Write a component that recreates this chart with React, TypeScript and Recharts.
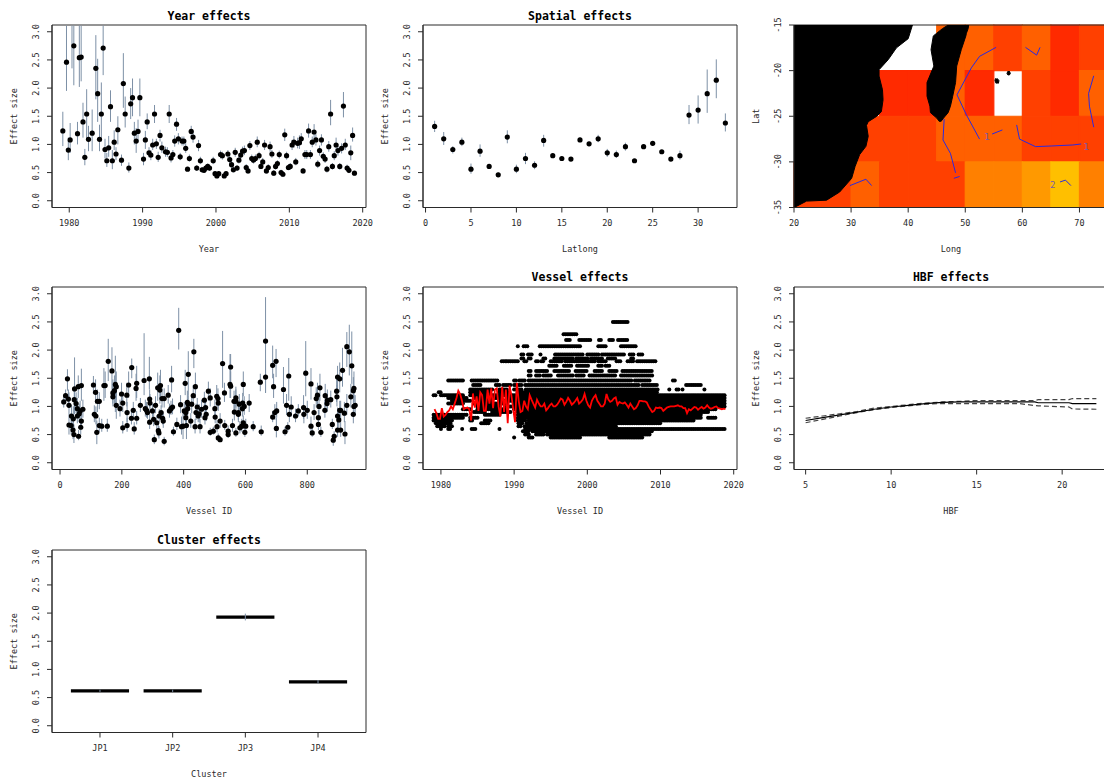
import React from "react";
import {
  ComposedChart,
  ScatterChart,
  LineChart,
  Scatter,
  Line,
  Area,
  ErrorBar,
  ReferenceArea,
  ReferenceDot,
  XAxis,
  YAxis,
} from "recharts";

// ---- year effects: one slot per quarter, 1979 to 2018
const yearEffect = [
  1.24, null, 2.46, 0.9, 1.08, 3.5, 2.75, null, 1.19, 2.54, 2.55, 1.4, 0.77, 1.54, 1.09, null, 1.2, null, 2.35, 1.9,
  1.09, 1.54, 2.71, 0.91, 0.71, 0.94, 1.67, 0.71, 1.04, 0.83, 1.26, null, 0.72, 2.08, 1.54, null, 0.58, 1.72, 1.83, 1.2,
  1.06, 1.23, 1.83, null, 0.74, 1.08, 1.4, 0.85, 0.81, 0.99, 1.54, 1.01, 0.77, 1.16, 0.94, null, 0.87, 0.86, 1.54, 0.76,
  0.82, 1.06, 1.36, 1.1, 0.78, 1.06, 1.06, 0.93, 0.56, 0.75, 1.23, 1.13, null, 0.58, 0.98, 0.71, 0.55, 0.54, 0.58, 0.61,
  0.58, null, 0.71, 0.48, 0.44, 0.48, 0.82, 0.8, 0.44, 0.48, 0.83, 0.73, 0.64, 0.55, 0.86, 0.58, 0.72, 0.81, 0.88, 0.89,
  0.59, 0.53, 0.98, 0.75, 0.72, 0.75, 1.04, 0.8, 0.61, 0.69, 0.99, 0.53, 0.59, 0.96, 0.83, 0.49, 0.61, 0.66, 0.82, 0.5,
  0.47, 1.17, 0.8, 0.59, 0.61, 0.99, 1.04, 0.69, 1.02, 1.03, 1.1, 0.53, 0.82, 0.82, 1.24, 0.82, 1.04, 1.22, 1.08, 0.65,
  0.89, 1.08, 0.79, 0.74, 0.56, 0.96, 1.54, 0.61, 0.8, 0.99, 0.89, 0.61, 0.93, 1.68, 0.99, 0.58, 0.54, 0.85, 1.16, 0.49,
];
const yearLow = [
  0.97, null, 1.95, 0.72, 0.85, 2.35, 2.05, null, 1.0, 2.02, 2.12, 1.12, 0.63, 1.09, 0.88, null, 0.88, null, 1.8, 1.4,
  0.88, 1.05, 2.23, 0.75, 0.6, 0.78, 1.4, 0.56, 0.9, 0.72, 1.0, null, 0.62, 1.65, 1.3, null, 0.5, 1.45, 1.5, 1.0,
  0.85, 1.05, 1.5, null, 0.63, 0.92, 1.27, 0.77, 0.72, 0.9, 1.38, 0.92, 0.69, 1.05, 0.85, null, 0.78, 0.78, 1.38, 0.68,
  0.74, 0.96, 1.24, 1.0, 0.72, 0.98, 0.98, 0.85, 0.53, 0.69, 1.13, 1.03, null, 0.53, 0.88, 0.65, 0.5, 0.5, 0.53, 0.56,
  0.53, null, 0.65, 0.44, 0.41, 0.44, 0.75, 0.73, 0.41, 0.44, 0.76, 0.66, 0.58, 0.5, 0.78, 0.53, 0.66, 0.74, 0.8, 0.81,
  0.54, 0.48, 0.9, 0.69, 0.66, 0.69, 0.95, 0.73, 0.56, 0.63, 0.9, 0.48, 0.54, 0.87, 0.76, 0.44, 0.55, 0.6, 0.75, 0.45,
  0.42, 1.06, 0.73, 0.54, 0.55, 0.9, 0.94, 0.63, 0.93, 0.92, 1.0, 0.48, 0.74, 0.74, 1.12, 0.74, 0.95, 1.1, 0.98, 0.58,
  0.8, 0.98, 0.72, 0.67, 0.5, 0.87, 1.34, 0.55, 0.72, 0.9, 0.8, 0.55, 0.84, 1.48, 0.9, 0.53, 0.49, 0.72, 1.05, 0.45,
];
// bars running off the top of the plot stop at the frame
const yearHigh = [
  1.58, null, 3.11, 1.12, 1.38, 3.11, 3.11, null, 1.4, 3.11, 3.11, 1.74, 0.92, 1.98, 1.33, null, 1.62, null, 2.94, 2.52,
  1.35, 2.1, 3.11, 1.1, 0.85, 1.15, 1.96, 0.9, 1.25, 0.95, 1.5, null, 0.82, 2.62, 1.85, null, 0.68, 2.0, 2.17, 1.4,
  1.29, 1.44, 2.17, null, 0.85, 1.24, 1.55, 0.95, 0.9, 1.1, 1.7, 1.1, 0.87, 1.26, 1.05, null, 0.96, 0.95, 1.7, 0.85,
  0.9, 1.16, 1.47, 1.2, 0.85, 1.14, 1.14, 1.02, 0.6, 0.82, 1.33, 1.24, null, 0.63, 1.08, 0.78, 0.6, 0.59, 0.63, 0.66,
  0.63, null, 0.78, 0.52, 0.48, 0.52, 0.89, 0.87, 0.48, 0.52, 0.9, 0.8, 0.71, 0.6, 0.94, 0.63, 0.79, 0.88, 0.96, 0.98,
  0.65, 0.58, 1.06, 0.82, 0.78, 0.82, 1.14, 0.87, 0.67, 0.76, 1.08, 0.58, 0.65, 1.05, 0.9, 0.54, 0.67, 0.72, 0.89, 0.55,
  0.52, 1.28, 0.87, 0.65, 0.67, 1.08, 1.15, 0.76, 1.12, 1.16, 1.2, 0.58, 0.9, 0.9, 1.37, 0.9, 1.14, 1.36, 1.18, 0.72,
  0.98, 1.18, 0.86, 0.81, 0.62, 1.06, 1.79, 0.67, 0.88, 1.12, 0.98, 0.67, 1.02, 1.93, 1.1, 0.64, 0.6, 0.98, 1.3, 0.53,
];

// ---- spatial effects
const spatialEffect = [
  1.32, 1.1, 0.91, 1.04, 0.56, 0.88, 0.61, 0.46, 1.13, 0.56, 0.75, 0.63, 1.07, 0.8, 0.75, 0.74, 1.08,
  1.01, 1.1, 0.85, 0.82, 0.96, 0.71, 0.96, 1.02, 0.87, 0.74, 0.8, 1.52, 1.61, 1.9, 2.14, 1.38,
];
const spatialLow = [
  1.22, 0.99, 0.84, 0.97, 0.48, 0.78, 0.57, 0.43, 1.02, 0.49, 0.65, 0.56, 0.96, 0.76, 0.72, 0.71, 1.05,
  0.97, 1.04, 0.78, 0.76, 0.89, 0.68, 0.93, 0.98, 0.83, 0.71, 0.73, 1.36, 1.37, 1.56, 1.82, 1.23,
];
const spatialHigh = [
  1.42, 1.22, 0.97, 1.12, 0.66, 1.0, 0.65, 0.5, 1.25, 0.64, 0.85, 0.7, 1.17, 0.84, 0.78, 0.77, 1.12,
  1.05, 1.17, 0.92, 0.89, 1.03, 0.74, 0.99, 1.06, 0.9, 0.77, 0.89, 1.7, 1.87, 2.33, 2.51, 1.55,
];

// ---- map panel
const mapLonEdges = [20, 25, 30, 35, 40, 45, 50, 55, 60, 65, 70, 75];
const mapLatEdges = [-15, -20, -25, -30, -35];
const heatColors = ["#FF2A00", "#FF4000", "#FF6000", "#FF8000", "#FF9900", "#FFBF00"];
const mapCells = [
  [null, null, null, null, null, 2, 2, 1, 2, 0, 1],
  [null, null, null, 0, 0, 2, 0, null, 1, 0, 2],
  [null, null, 1, 1, 1, 2, 2, 2, 1, 1, 1],
  [1, 1, 2, 1, 1, 1, 3, 3, 4, 5, 3],
];
const africaCoast = [
  [-15, 40.75], [-16.5, 40], [-17.5, 37.95], [-18.8, 36.5], [-19.9, 34.9], [-20.6, 34.9], [-22.1, 35.5], [-23.2, 35.6],
  [-24.5, 35.3], [-25, 34.5], [-25.6, 33], [-26, 32.7], [-27.2, 33], [-28.3, 32.6], [-29.2, 31.5], [-30.5, 30.7],
  [-31.8, 30.1], [-33.3, 28], [-34.2, 25.7], [-34.3, 22.2], [-34.85, 20.5], [-35, 20],
];
const madagascarCoast = [
  [-15, 47, 50.6], [-15.4, 46, 50.5], [-15.9, 45, 50.2], [-16.2, 44.4, 50.1], [-17.7, 44, 49.3], [-19.5, 44.5, 48.5],
  [-21.3, 43.3, 48.3], [-22.8, 43.3, 47.8], [-23.9, 43.8, 47.4], [-24.6, 43.9, 47], [-25.2, 45, 46.2], [-25.6, 45.5, 45.7],
];
const islandCoasts = [
  [[-20.85, 55.3, 55.6], [-21.1, 55.2, 55.9], [-21.4, 55.4, 55.8]],
  [[-20.05, 57.5, 57.7], [-20.3, 57.3, 57.9], [-20.5, 57.5, 57.7]],
];
const contourLines = [
  [[-17.45, 55.4], [-18.44, 52.5], [-19.7, 51.06], [-22.65, 48.55], [-24.85, 50.2], [-27.5, 52.5]],
  [[-17.45, 60.55], [-18.3, 62.5], [-17.45, 63.1]],
  [[-20.57, 72.5], [-22.5, 71.6], [-23.9, 71.75], [-26.2, 72.5]],
  [[-25.3, 46.3], [-27.6, 46.1], [-29.07, 47.4], [-31.2, 48.3]],
  [[-31.8, 48], [-31.6, 49]],
  [[-26.95, 54.7], [-26.5, 56.5]],
  [[-25.95, 59], [-27.5, 59.5], [-28.33, 62.3], [-28.26, 65.05], [-28.15, 68.8], [-28.04, 70.3]],
  [[-32.6, 29.8], [-31.9, 32.6], [-32.6, 33.6]],
  [[-32.2, 66.6], [-32, 67.55], [-32.6, 68.5]],
];
const contourLabels = [
  { lat: -27.3, lon: 53.8, text: "1" },
  { lat: -28.3, lon: 71.2, text: "1" },
  { lat: -32.5, lon: 65.3, text: "2" },
];

// ---- vessel id effects
const vesselIds = [
  12, 18, 24, 27, 29, 29, 36, 37, 42, 43, 45, 47, 46, 52, 56, 59, 56, 60, 62, 65, 67, 69, 69, 74,
  108, 111, 115, 116, 119, 121, 127, 127, 135, 142, 146, 153, 156, 168, 171, 171, 176, 179, 182, 182, 194, 199, 203, 203,
  216, 217, 217, 222, 232, 231, 237, 240, 246, 248, 248, 260, 272, 276, 280, 283, 289, 290, 290, 291, 299, 303, 305, 309,
  313, 316, 318, 320, 323, 325, 321, 327, 330, 332, 334, 337, 337, 350, 354, 359, 361, 364, 367, 378, 384, 390, 393, 398,
  402, 405, 407, 407, 409, 412, 415, 413, 415, 423, 426, 431, 433, 438, 437, 440, 444, 447, 450, 453, 458, 467, 469, 471,
  473, 480, 486, 486, 496, 501, 502, 507, 508, 511, 512, 512, 518, 518, 526, 532, 533, 544, 544, 550, 552, 552, 558, 563,
  564, 569, 569, 569, 577, 577, 580, 582, 588, 590, 591, 593, 593, 596, 598, 601, 612, 625, 648, 651, 665, 665, 688, 688,
  691, 695, 699, 701, 700, 723, 728, 733, 737, 740, 742, 748, 762, 771, 789, 788, 795, 800, 812, 812, 816, 822, 829, 833,
  836, 836, 838, 841, 844, 857, 858, 864, 865, 876, 881, 884, 887, 895, 896, 898, 898, 898, 902, 905, 905, 908, 908, 914,
  920, 922, 928, 928, 936, 941, 944, 949, 949, 951, 951, 955,
];
const vesselEffect = [
  1.08, 1.19, 1.49, 1.13, 1.02, 0.67, 0.66, 0.83, 0.58, 0.78, 0.5, 1.31, 1.12, 1.05, 0.83, 1.35, 0.96, 0.47, 0.87, 0.92, 0.63, 1.37, 0.74, 0.95,
  1.38, 0.86, 1.25, 0.83, 0.54, 1.09, 1.09, 0.66, 0.65, 1.37, 1.37, 0.65, 1.8, 1.63, 1.24, 1.17, 1.28, 1.39, 1.35, 1.02, 0.96, 1.22, 1.06, 0.62,
  1.2, 0.89, 0.66, 1.38, 1.69, 0.79, 0.93, 0.6, 1.32, 1.41, 0.79, 1.02, 1.46, 0.96, 0.93, 0.89, 1.49, 1.13, 0.72, 1.06, 0.92, 0.77, 0.41, 1.02,
  0.71, 1.33, 0.57, 0.53, 1.29, 1.37, 0.83, 0.89, 1.14, 0.79, 0.74, 1.14, 0.38, 1.2, 0.92, 0.96, 1.47, 0.99, 0.55, 0.68, 2.35, 1.03, 0.64, 0.65,
  0.92, 1.41, 0.8, 0.89, 0.66, 1.07, 1.57, 0.96, 1.04, 0.74, 1.04, 1.19, 1.97, 1.35, 0.64, 0.89, 0.99, 0.83, 0.87, 0.64, 0.95, 1.11, 0.8, 0.98,
  0.86, 1.27, 1.15, 0.54, 0.56, 0.96, 0.81, 1.18, 0.64, 1.14, 1.06, 0.44, 0.41, 0.74, 1.76, 1.24, 0.66, 0.5, 0.56, 1.39, 1.7, 1.36, 0.66, 1.09,
  0.9, 1.15, 0.53, 1.09, 0.89, 0.86, 1.04, 0.62, 0.65, 0.96, 1.06, 1.39, 0.71, 1.0, 0.54, 0.65, 1.06, 0.64, 1.43, 0.55, 1.52, 2.16, 0.81, 1.73,
  1.35, 0.89, 1.8, 0.92, 0.61, 1.3, 0.55, 1.02, 0.63, 1.54, 0.86, 0.99, 0.83, 0.92, 0.86, 0.98, 1.59, 0.93, 1.4, 0.65, 0.53, 0.89, 1.14, 1.2,
  0.8, 0.68, 1.0, 1.33, 0.54, 0.93, 1.19, 1.05, 1.11, 1.12, 0.68, 0.4, 0.47, 1.27, 1.17, 1.52, 0.83, 0.58, 0.76, 1.49, 0.93, 0.58, 0.93, 1.64,
  0.88, 0.51, 2.06, 1.02, 1.97, 1.17, 1.72, 0.86, 1.28, 1.32, 1.0, 1.02,
];
const vesselLow = [
  0.98, 1.08, 1.28, 0.98, 0.85, 0.5, 0.5, 0.68, 0.42, 0.6, 0.35, 0.86, 0.92, 0.88, 0.7, 1.15, 0.8, 0.4, 0.72, 0.76, 0.5, 1.1, 0.6, 0.8,
  1.22, 0.72, 1.05, 0.68, 0.33, 0.9, 0.95, 0.55, 0.55, 1.1, 1.15, 0.55, 1.45, 1.2, 1.05, 1.0, 1.05, 0.9, 1.12, 0.78, 0.82, 1.05, 0.9, 0.52,
  1.0, 0.72, 0.55, 1.15, 1.5, 0.68, 0.8, 0.5, 1.1, 1.15, 0.68, 0.9, 1.2, 0.82, 0.8, 0.78, 1.3, 0.98, 0.6, 0.92, 0.8, 0.65, 0.33, 0.88,
  0.6, 1.1, 0.46, 0.43, 1.05, 1.15, 0.72, 0.78, 0.98, 0.68, 0.62, 0.98, 0.31, 1.05, 0.8, 0.85, 1.25, 0.86, 0.48, 0.58, 2.01, 0.88, 0.5, 0.42,
  0.78, 1.2, 0.68, 0.72, 0.42, 0.9, 1.2, 0.82, 0.9, 0.62, 0.88, 1.02, 1.68, 1.15, 0.52, 0.76, 0.85, 0.72, 0.72, 0.52, 0.8, 0.98, 0.68, 0.85,
  0.74, 1.1, 1.0, 0.48, 0.5, 0.82, 0.7, 1.0, 0.54, 0.98, 0.92, 0.38, 0.37, 0.62, 1.33, 1.08, 0.58, 0.44, 0.48, 1.15, 1.32, 1.15, 0.55, 0.92,
  0.75, 0.98, 0.46, 0.92, 0.76, 0.72, 0.88, 0.52, 0.55, 0.82, 0.9, 1.18, 0.6, 0.85, 0.46, 0.55, 0.9, 0.56, 1.27, 0.48, 1.24, 1.24, 0.72, 1.5,
  1.15, 0.76, 1.52, 0.8, 0.45, 1.05, 0.48, 0.85, 0.55, 1.1, 0.72, 0.82, 0.72, 0.82, 0.7, 0.78, 1.18, 0.78, 1.12, 0.52, 0.46, 0.76, 0.98, 1.0,
  0.68, 0.58, 0.85, 1.1, 0.46, 0.8, 0.98, 0.9, 0.95, 0.98, 0.6, 0.3, 0.4, 1.08, 1.0, 1.25, 0.7, 0.46, 0.62, 1.25, 0.78, 0.46, 0.78, 1.35,
  0.72, 0.33, 1.7, 0.85, 1.55, 0.98, 1.4, 0.7, 1.05, 1.08, 0.85, 0.88,
];
const vesselHigh = [
  1.18, 1.3, 1.66, 1.3, 1.25, 0.85, 0.88, 1.02, 0.78, 1.0, 0.68, 1.87, 1.35, 1.25, 1.0, 1.55, 1.15, 0.58, 1.05, 1.1, 0.78, 1.67, 0.92, 1.12,
  1.54, 1.02, 1.48, 1.0, 0.75, 1.3, 1.25, 0.8, 0.78, 1.68, 1.62, 0.78, 2.2, 2.05, 1.48, 1.4, 1.55, 1.9, 1.62, 1.3, 1.12, 1.42, 1.25, 0.74,
  1.42, 1.08, 0.8, 1.62, 1.85, 0.92, 1.08, 0.72, 1.58, 1.72, 0.92, 1.15, 2.3, 1.12, 1.08, 1.02, 1.88, 1.3, 0.86, 1.22, 1.05, 0.92, 0.5, 1.18,
  0.84, 1.6, 0.7, 0.65, 1.55, 1.65, 0.95, 1.02, 1.32, 0.92, 0.88, 1.32, 0.46, 1.38, 1.05, 1.1, 1.72, 1.14, 0.64, 0.8, 2.75, 1.2, 0.82, 0.9,
  1.08, 1.65, 0.94, 1.08, 1.0, 1.28, 1.98, 1.12, 1.2, 0.88, 1.22, 1.38, 2.2, 1.6, 0.78, 1.05, 1.15, 0.96, 1.04, 0.78, 1.12, 1.26, 0.94, 1.14,
  1.0, 1.44, 1.32, 0.62, 0.64, 1.12, 0.94, 1.38, 0.76, 1.32, 1.22, 0.52, 0.46, 0.88, 2.34, 1.42, 0.76, 0.58, 0.66, 1.93, 1.93, 1.62, 0.78, 1.28,
  1.08, 1.35, 0.62, 1.3, 1.04, 1.02, 1.22, 0.74, 0.78, 1.12, 1.24, 1.62, 0.84, 1.18, 0.64, 0.78, 1.22, 0.74, 1.58, 0.66, 1.82, 2.94, 0.92, 2.08,
  1.58, 1.04, 2.02, 1.08, 0.8, 1.7, 0.64, 1.22, 0.72, 1.86, 1.02, 1.18, 0.96, 1.04, 1.02, 1.2, 2.16, 1.1, 1.68, 0.82, 0.62, 1.04, 1.34, 1.42,
  0.94, 0.8, 1.18, 1.58, 0.64, 1.1, 1.4, 1.22, 1.3, 1.28, 0.78, 0.5, 0.56, 1.5, 1.38, 1.72, 0.98, 0.72, 0.92, 1.78, 1.1, 0.72, 1.1, 2.04,
  1.08, 0.74, 2.32, 1.22, 2.45, 1.4, 2.33, 1.04, 1.52, 1.62, 1.2, 1.2,
];

// ---- vessel effects by year: the cloud is rows of points, one row per vessel effect level
const cloudLevels = [
  2.5, 2.28, 2.18, 2.07, 1.92, 1.85, 1.8, 1.72, 1.63, 1.55, 1.46, 1.38, 1.3, 1.25, 1.2, 1.15, 1.1, 1.05, 1.0, 0.95,
  0.9, 0.85, 0.8, 0.75, 0.7, 0.65, 0.6, 0.56, 0.5, 0.45,
];
const cloudRuns = [
  [[2003.5, 2005.5]],
  [[1996.75, 1998.5]],
  [[1997.1, 1997.6], [1998.9, 2000.6], [2001.6, 2002], [2003, 2003.5], [2004.2, 2005.6]],
  [[1990.5, 1990.7], [1991.3, 1991.9], [1993.5, 1999], [2001.5, 2002.5], [2004.6, 2006.6]],
  [[1991, 1991.3], [1991.9, 1992.4], [1993.6, 1993.8], [1995.6, 1999.4], [2000, 2001.5], [2002, 2005], [2005.8, 2006.5], [2007, 2007.5]],
  [[1991, 1991.4], [1992, 1992.3], [1994, 1994.4], [1995.5, 1998], [1998.5, 2000], [2000.5, 2002], [2002.8, 2004], [2006, 2006.4]],
  [[1988.3, 1988.8], [1989, 1990.6], [1991.4, 1991.8], [1993, 1993.3], [1993.7, 1994], [1995, 1996.5], [1997, 2001], [2001.5, 2002.6], [2004, 2004.5], [2005.5, 2006.3], [2006.8, 2009.5]],
  [[1994.8, 1996], [1996.8, 1998], [1998.6, 2000.2], [2001.5, 2002], [2002.5, 2003]],
  [[1992, 1992.4], [1993, 1994.5], [1995.5, 1997.7], [1998.4, 2000], [2001, 2002.2], [2003, 2004.2], [2004.8, 2009]],
  [[1992, 1992.3], [1993, 1993.5], [1994, 1995.2], [1996, 1998], [1998.5, 1999.6], [2000.3, 2004], [2004.6, 2009]],
  [[1981, 1983.2], [1984.2, 1987.7], [1990, 1990.3], [1990.7, 1991.6], [1992, 2006], [2006.5, 2008.6], [2011.7, 2012]],
  [[1984.4, 1985.5], [1987.5, 1988], [1988.5, 1989.5], [1990, 1991], [1991.5, 2007], [2007.5, 2009.5], [2013.5, 2015.5]],
  [[1984, 1987], [1988, 1989], [1990, 1991.2], [1991.6, 2009.7], [2011.2, 2011.4], [2012.2, 2012.5], [2013, 2013.2], [2016, 2016.2]],
  [[1979.7, 1980], [1984, 1986.5], [1988, 1989.4], [1990.5, 2009.5]],
  [[1979, 1979.3], [1980, 1983], [1984, 2018.8]],
  [[1981, 1983.5], [1984.5, 1988], [1989, 2018.8]],
  [[1981.5, 1984], [1985, 1987], [1988, 2018.8]],
  [[1981, 1983], [1984.5, 1989], [1990, 2018.8]],
  [[1985, 1988], [1989, 2018.8]],
  [[1983, 1984], [1985, 1989], [1990, 2017.5]],
  [[1984.5, 1986], [1987, 1989.5], [1990.5, 2016.5]],
  [[1979, 1983.5], [1986, 1988], [1990.5, 2015.5]],
  [[1979, 1983], [1984, 1985], [1990.5, 2015.5], [2016.5, 2017.6]],
  [[1979, 1981.5], [1984, 1984.3], [1986, 1986.8], [1990.5, 1991.5], [1992, 2014.5]],
  [[1979.3, 1981.5], [1985.5, 1986.7], [1990.6, 1991.2], [1991.7, 2010]],
  [[1979.5, 1980.5], [1981, 1981.5], [1990.6, 1991], [1991.4, 2004]],
  [[1980, 1980.2], [1981, 1981.3], [1982.9, 1983], [1984.2, 1984.8], [1988, 1988.2], [1991.5, 2018.8]],
  [[1991.2, 1992], [1992.5, 2004], [2004.3, 2008.8]],
  [[1991.5, 1992.2], [1993, 1994], [1994.5, 2008.5]],
  [[1990, 1990.2], [1992, 1992.5], [1995, 1999], [2003, 2007.5]],
];

// quarterly mean drawn in red
const cloudMean = [
  0.95, 0.88, 0.78, 0.78, 0.97, 0.82, 0.85, 0.9, 0.93, 1.0, 0.95, 1.05, 1.15, 1.28, 1.22, 1.1, 0.95, 0.97, 0.98, 0.95,
  0.75, 1.23, 0.98, 1.18, 0.92, 1.25, 1.2, 0.92, 0.92, 1.3, 1.05, 1.32, 0.97, 1.3, 1.32, 1.0, 0.82, 1.35, 0.9, 1.3,
  0.7, 1.37, 1.2, 0.95, 0.72, 1.42, 1.1, 0.9, 0.92, 1.1, 1.0, 0.95, 1.2, 1.12, 1.05, 0.98, 1.12, 1.05, 1.0, 1.0,
  1.05, 0.93, 0.97, 1.02, 1.05, 1.0, 1.0, 1.03, 1.08, 1.14, 1.12, 1.03, 1.08, 1.15, 1.1, 1.03, 1.06, 1.1, 1.15, 1.05,
  1.08, 1.12, 1.22, 1.1, 1.02, 0.98, 1.1, 1.16, 1.2, 1.1, 1.05, 1.0, 1.0, 1.05, 1.22, 1.12, 1.08, 1.1, 1.14, 1.16,
  1.03, 1.08, 1.06, 1.05, 1.07, 1.03, 0.98, 1.05, 1.0, 0.95, 0.97, 1.02, 1.1, 1.1, 1.09, 1.09, 1.07, 1.0, 0.95, 0.9,
  0.92, 0.98, 0.97, 0.98, 0.97, 0.92, 0.95, 0.98, 0.99, 1.0, 1.0, 1.0, 1.01, 1.02, 1.0, 1.0, 0.97, 0.97, 0.88, 0.95,
  0.93, 0.96, 0.99, 0.98, 0.94, 0.97, 0.99, 0.96, 0.98, 1.02, 0.98, 0.96, 0.97, 0.99, 1.0, 0.97, 0.96, 0.95, 0.96, 0.95,
];

// ---- hbf effects
const hbfValues = [5, 6, 7, 8, 9, 10, 11, 12, 13, 14, 15, 17.5, 18.4, 18.6, 20.4, 20.6, 22];
const hbfEffect = [0.75, 0.8, 0.85, 0.9, 0.95, 0.99, 1.02, 1.05, 1.07, 1.08, 1.08, 1.08, 1.08, 1.065, 1.065, 1.05, 1.05];
const hbfUpper = [0.79, 0.83, 0.87, 0.91, 0.97, 1.0, 1.03, 1.06, 1.08, 1.09, 1.105, 1.105, 1.105, 1.12, 1.12, 1.14, 1.14];
const hbfLower = [0.71, 0.77, 0.83, 0.89, 0.94, 0.98, 1.01, 1.04, 1.05, 1.05, 1.05, 1.05, 1.015, 1.01, 0.99, 0.955, 0.95];

// ---- cluster effects
const clusterNames = ["JP1", "JP2", "JP3", "JP4"];
const clusterEffect = [0.62, 0.62, 1.93, 0.78];
const clusterLow = [0.6, 0.6, 1.87, 0.75];
const clusterHigh = [0.64, 0.64, 1.99, 0.81];

const FONT = "'DejaVu Sans Mono', monospace";
const INK = "#2a2a2a";
const BAR = "#7d90a6";
const PLOT_W = 314;
const PLOT_H = 182.5;
const MARGIN_TOP = 25;
const AXIS_W = 52;
const RIGHT_PAD = 19;
const CHART_W = AXIS_W + PLOT_W + RIGHT_PAD;
const CHART_H = 262;
const Y_DOMAIN: [number, number] = [-0.12, 3.12];
const Y_TICKS = [0, 0.5, 1, 1.5, 2, 2.5, 3];

const RotatedTick = ({ x, y, payload, format }: any) => (
  <text
    x={x - 8}
    y={y}
    transform={`rotate(-90 ${x - 8} ${y})`}
    textAnchor="middle"
    fontFamily={FONT}
    fontSize={8.5}
    fill={INK}
  >
    {format ? format(payload.value) : payload.value}
  </text>
);

const xAxisProps = (label: string, domain: [number, number], ticks: number[]) => ({
  type: "number" as const,
  dataKey: "x",
  domain,
  ticks,
  allowDataOverflow: true,
  interval: 0 as const,
  height: CHART_H - MARGIN_TOP - PLOT_H,
  tickSize: 5,
  tickMargin: 7,
  stroke: INK,
  tick: { fontFamily: FONT, fontSize: 8.5, fill: INK },
  label: { value: label, position: "insideBottom" as const, offset: 10, fontFamily: FONT, fontSize: 8.5, fill: INK },
});

const yAxisProps = (label = "Effect size", domain = Y_DOMAIN, ticks = Y_TICKS, digits = 1) => ({
  type: "number" as const,
  dataKey: "y",
  domain,
  ticks,
  allowDataOverflow: true,
  interval: 0 as const,
  width: AXIS_W,
  tickSize: 5,
  tickMargin: 0,
  stroke: INK,
  tick: <RotatedTick format={(v: number) => v.toFixed(digits)} />,
  label: {
    value: label,
    angle: -90,
    position: "insideLeft" as const,
    offset: 13.5,
    fontFamily: FONT,
    fontSize: 8.5,
    fill: INK,
    style: { textAnchor: "middle" as const },
  },
});

const Frame = ({ x, y }: { x: [number, number]; y: [number, number] }) => (
  <ReferenceArea x1={x[0]} x2={x[1]} y1={y[0]} y2={y[1]} fill="none" stroke={INK} strokeWidth={1} />
);

const Panel = ({ col, row, title, children }: any) => (
  <div style={{ position: "absolute", left: col * 371, top: row * 262.3, width: CHART_W, height: CHART_H }}>
    {title && (
      <div
        style={{
          position: "absolute",
          left: AXIS_W,
          width: PLOT_W,
          top: row === 0 ? 9 : 8,
          textAlign: "center",
          fontFamily: FONT,
          fontWeight: "bold",
          fontSize: 11.5,
          lineHeight: "14px",
        }}
      >
        {title}
      </div>
    )}
    {children}
  </div>
);

const size = { width: CHART_W, height: CHART_H, margin: { top: MARGIN_TOP, right: RIGHT_PAD, left: 0, bottom: 0 } };

const dot = (r: number) => (p: any) => <circle cx={p.cx} cy={p.cy} r={r} fill="#000" />;
const noDot = () => null;

const EffectScatter = ({ data, xLabel, xDomain, xTicks }: any) => (
  <ScatterChart {...size}>
    <XAxis {...xAxisProps(xLabel, xDomain, xTicks)} />
    <YAxis {...yAxisProps()} />
    <Frame x={xDomain} y={Y_DOMAIN} />
    <Scatter data={data} isAnimationActive={false} shape={dot(2.6)}>
      <ErrorBar dataKey="err" direction="y" width={0} stroke={BAR} strokeWidth={1} isAnimationActive={false} />
    </Scatter>
  </ScatterChart>
);

const withErr = (x: number[], y: any[], lo: any[], hi: any[]) =>
  x
    .map((v, i) => ({ x: v, y: y[i], err: [y[i] - lo[i], hi[i] - y[i]] }))
    .filter((d) => d.y != null);

const yearTimes = yearEffect.map((_, i) => 1979.125 + i * 0.25);
const yearData = withErr(yearTimes, yearEffect, yearLow, yearHigh);
const spatialData = withErr(spatialEffect.map((_, i) => i + 1), spatialEffect, spatialLow, spatialHigh);
const vesselData = withErr(vesselIds, vesselEffect, vesselLow, vesselHigh);

const cloudData = cloudLevels.flatMap((level, i) =>
  cloudRuns[i].flatMap(([from, to]) => {
    const pts = [];
    for (let t = from; t <= to; t += 0.25) pts.push({ x: t, y: level });
    return pts;
  }),
);
const meanData = cloudMean.map((y, i) => ({ x: yearTimes[i], y }));
const hbfRows = hbfValues.map((x, i) => ({ x, y: hbfEffect[i], upper: hbfUpper[i], lower: hbfLower[i] }));
const clusterBars = clusterEffect.map((y, i) => [
  { x: i + 1 - 0.4, y },
  { x: i + 1 + 0.4, y },
]);
const clusterCentres = withErr(clusterEffect.map((_, i) => i + 1), clusterEffect, clusterLow, clusterHigh);

const africaData = africaCoast.map(([y, lon]) => ({ y, land: [20, lon] }));
const madagascarData = madagascarCoast.map(([y, w, e]) => ({ y, land: [w, e] }));

const landProps = {
  type: "linear" as const,
  dataKey: "land",
  fill: "#000",
  fillOpacity: 1,
  stroke: "#000",
  isAnimationActive: false,
  dot: false,
  activeDot: false,
};

const MapPanel = () => (
  <ComposedChart {...size} layout="vertical">
    <XAxis {...xAxisProps("Long", [20, 75], [20, 30, 40, 50, 60, 70])} dataKey={undefined} />
    <YAxis {...yAxisProps("Lat", [-35, -15], [-15, -20, -25, -30, -35], 0)} reversed />
    {mapCells.flatMap((row, r) =>
      row.map((c, i) =>
        c == null ? null : (
          <ReferenceArea
            key={`${r}-${i}`}
            x1={mapLonEdges[i]}
            x2={mapLonEdges[i + 1]}
            y1={mapLatEdges[r]}
            y2={mapLatEdges[r + 1]}
            fill={heatColors[c]}
            fillOpacity={1}
            stroke={heatColors[c]}
            strokeWidth={1.2}
          />
        ),
      ),
    )}
    <Frame x={[20, 75]} y={[-35, -15]} />
    <Area data={africaData} {...landProps} />
    <Area data={madagascarData} {...landProps} />
    {islandCoasts.map((coast, i) => (
      <Area key={i} data={coast.map(([y, w, e]) => ({ y, land: [w, e] }))} {...landProps} />
    ))}
    {contourLines.map((pts, i) => (
      <Line
        key={i}
        type="linear"
        data={pts.map(([y, lon]) => ({ y, lon }))}
        dataKey="lon"
        stroke="#2a2ae0"
        strokeWidth={1}
        dot={false}
        activeDot={false}
        isAnimationActive={false}
      />
    ))}
    {contourLabels.map((l, i) => (
      <ReferenceDot
        key={i}
        x={l.lon}
        y={l.lat}
        r={0}
        stroke="none"
        label={{ value: l.text, position: "center", fontFamily: FONT, fontSize: 9, fill: "#7a5aa8" }}
      />
    ))}
  </ComposedChart>
);

const hbfLine = { type: "linear" as const, data: hbfRows, dot: false, activeDot: false, isAnimationActive: false };

export default function App() {
  return (
    <div style={{ position: "absolute", left: 0, top: 0, width: 1104, height: 782, overflow: "hidden", background: "#fff" }}>
      <Panel col={0} row={0} title="Year effects">
        <EffectScatter data={yearData} xLabel="Year" xDomain={[1977.65, 2020.45]} xTicks={[1980, 1990, 2000, 2010, 2020]} />
      </Panel>
      <Panel col={1} row={0} title="Spatial effects">
        <EffectScatter data={spatialData} xLabel="Latlong" xDomain={[-0.28, 34.28]} xTicks={[0, 5, 10, 15, 20, 25, 30]} />
      </Panel>
      <Panel col={2} row={0}>
        <MapPanel />
      </Panel>

      <Panel col={0} row={1}>
        <EffectScatter data={vesselData} xLabel="Vessel ID" xDomain={[-26, 990]} xTicks={[0, 200, 400, 600, 800]} />
      </Panel>
      <Panel col={1} row={1} title="Vessel effects">
        <ScatterChart {...size}>
          <XAxis {...xAxisProps("Vessel ID", [1977.55, 2020.45], [1980, 1990, 2000, 2010, 2020])} />
          <YAxis {...yAxisProps()} />
          <Frame x={[1977.55, 2020.45]} y={Y_DOMAIN} />
          <Scatter data={cloudData} isAnimationActive={false} shape={dot(2)} />
          <Scatter data={meanData} isAnimationActive={false} shape={noDot} line={{ stroke: "#ff0000", strokeWidth: 1.8 }} />
        </ScatterChart>
      </Panel>
      <Panel col={2} row={1} title="HBF effects">
        <LineChart {...size}>
          <XAxis {...xAxisProps("HBF", [4.32, 22.68], [5, 10, 15, 20])} />
          <YAxis {...yAxisProps()} dataKey={undefined} />
          <Frame x={[4.32, 22.68]} y={Y_DOMAIN} />
          <Line {...hbfLine} dataKey="upper" stroke="#444" strokeWidth={1.2} strokeDasharray="5 3" />
          <Line {...hbfLine} dataKey="lower" stroke="#444" strokeWidth={1.2} strokeDasharray="5 3" />
          <Line {...hbfLine} dataKey="y" stroke="#000" strokeWidth={1.2} />
        </LineChart>
      </Panel>

      <Panel col={0} row={2} title="Cluster effects">
        <ComposedChart {...size}>
          <XAxis
            {...xAxisProps("Cluster", [0.34, 4.66], [1, 2, 3, 4])}
            tickFormatter={(v: number) => clusterNames[v - 1]}
          />
          <YAxis {...yAxisProps()} dataKey={undefined} />
          <Frame x={[0.34, 4.66]} y={Y_DOMAIN} />
          {clusterBars.map((bar, i) => (
            <Line key={i} type="linear" data={bar} dataKey="y" stroke="#000" strokeWidth={3.2} dot={false} activeDot={false} isAnimationActive={false} />
          ))}
          <Line data={clusterCentres} dataKey="y" stroke="none" dot={false} activeDot={false} isAnimationActive={false}>
            <ErrorBar dataKey="err" direction="y" width={0} stroke={BAR} strokeWidth={1} isAnimationActive={false} />
          </Line>
        </ComposedChart>
      </Panel>
    </div>
  );
}
